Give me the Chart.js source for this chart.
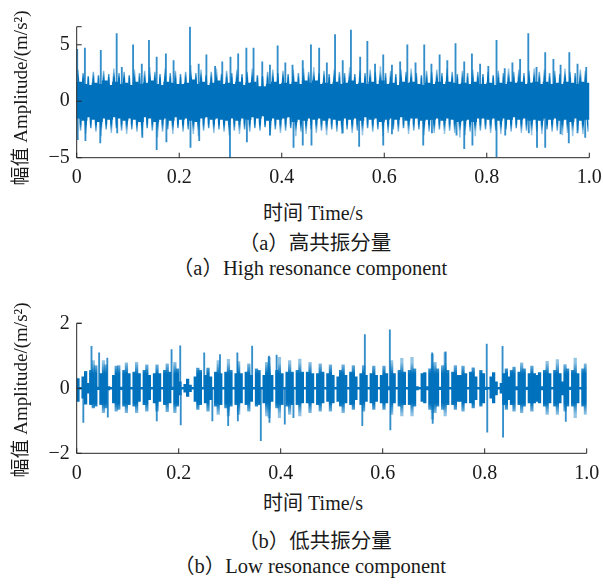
<!DOCTYPE html>
<html>
<head>
<meta charset="utf-8">
<script src="https://cdn.jsdelivr.net/npm/chart.js@4.4.1/dist/chart.umd.min.js"></script>
<style>
body{margin:0;background:#fff;width:603px;height:584px;position:relative;overflow:hidden;font-family:"Liberation Serif","Noto Sans CJK SC",serif;color:#1a1a1a}
.box{position:absolute;left:0;width:603px}
.txt{position:absolute;white-space:nowrap;transform:translate(-50%,-50%);font-size:20px;line-height:1}
.cap{font-size:20.5px}
.ytl{position:absolute;white-space:nowrap;transform:translate(-50%,-50%) rotate(-90deg);font-size:19px;line-height:1}
</style>
</head>
<body>
<div class="box" style="top:0;height:200px"><canvas id="chartHigh"></canvas></div>
<div class="box" style="top:290px;height:200px"><canvas id="chartLow"></canvas></div>

<div class="ytl" style="left:20px;top:98px">幅值 Amplitude/(m/s²)</div>
<div class="txt" style="left:313px;top:213px">时间 Time/s</div>
<div class="txt cap" style="left:315px;top:243px">（a）高共振分量</div>
<div class="txt cap" style="left:310px;top:268px">（a）High resonance component</div>

<div class="ytl" style="left:20px;top:390px">幅值 Amplitude/(m/s²)</div>
<div class="txt" style="left:313px;top:503px">时间 Time/s</div>
<div class="txt cap" style="left:315px;top:541px">（b）低共振分量</div>
<div class="txt cap" style="left:310px;top:566px">（b）Low resonance component</div>

<script>
// tick values
var xTicks = [0, 0.2, 0.4, 0.6, 0.8, 1.0];
var highYTicks = [-5, 0, 5];
var lowYTicks = [-2, 0, 2];

// (a) high resonance component: envelope per 0.01 s bin
var highBin = 0.01;
var highFringeHi = [
 2.8,2.5,2.2,2.6,2.3,2.7,2.4,2.9,2.5,2.6,
 2.3,2.8,2.5,2.7,3.0,2.6,2.4,2.9,2.5,2.7,
 2.4,2.6,3.2,2.5,2.8,2.3,2.6,2.9,2.4,2.7,
 2.5,2.8,2.4,2.6,2.9,2.3,2.2,2.6,2.8,2.5,
 2.7,2.4,2.8,2.5,2.9,2.6,3.0,2.5,2.7,2.4,
 2.8,2.6,2.5,3.0,2.4,2.7,2.5,2.8,2.6,3.1,
 2.5,2.7,2.4,2.8,2.6,2.9,2.5,2.3,2.7,2.6,
 2.8,2.5,2.9,2.6,2.4,2.7,2.5,2.8,2.6,2.4,
 2.6,2.3,2.7,2.5,2.9,2.6,2.8,2.5,2.7,2.9,
 2.6,2.8,2.5,2.7,2.4,2.9,2.6,2.5,2.8,2.7];
var highFringeLo = [
 -2.6,-2.9,-2.4,-2.7,-3.1,-2.5,-2.8,-2.4,-2.6,-2.9,
 -2.5,-2.7,-3.0,-2.4,-2.6,-3.2,-2.7,-2.5,-2.9,-2.4,
 -2.7,-2.5,-2.9,-3.1,-2.6,-2.4,-2.8,-2.5,-2.7,-3.0,
 -2.6,-2.9,-2.5,-2.7,-2.4,-2.6,-2.3,-3.0,-2.5,-2.8,
 -2.6,-2.4,-3.1,-2.7,-2.9,-2.5,-2.8,-2.6,-3.0,-2.5,
 -2.7,-2.9,-2.5,-2.8,-2.6,-3.0,-2.4,-2.7,-2.5,-3.1,
 -2.8,-2.5,-2.7,-2.4,-2.9,-2.6,-2.5,-3.0,-2.7,-2.8,
 -2.5,-2.9,-2.6,-2.8,-3.2,-3.0,-2.7,-3.1,-2.6,-2.5,
 -2.8,-2.6,-2.9,-2.5,-2.7,-2.4,-2.8,-2.6,-3.0,-2.7,
 -2.9,-2.5,-2.7,-2.6,-3.0,-2.8,-3.1,-2.6,-2.9,-2.7];
var highCoreHi = [
 1.7,1.5,1.4,1.6,1.5,1.8,1.4,1.7,1.5,1.6,
 1.4,1.7,1.5,1.6,1.8,1.5,1.4,1.7,1.6,1.5,
 1.5,1.6,1.9,1.5,1.7,1.4,1.6,1.8,1.5,1.6,
 1.5,1.7,1.4,1.6,1.7,1.3,1.3,1.5,1.7,1.5,
 1.6,1.5,1.7,1.5,1.8,1.6,1.8,1.5,1.6,1.5,
 1.7,1.5,1.6,1.8,1.5,1.6,1.5,1.7,1.5,1.8,
 1.5,1.6,1.4,1.7,1.6,1.7,1.5,1.4,1.6,1.5,
 1.7,1.5,1.7,1.6,1.5,1.6,1.5,1.7,1.5,1.5,
 1.6,1.4,1.6,1.5,1.7,1.6,1.7,1.5,1.6,1.7,
 1.5,1.7,1.5,1.6,1.5,1.7,1.6,1.5,1.7,1.6];
var highCoreLo = [
 -1.5,-1.7,-1.4,-1.6,-1.8,-1.5,-1.6,-1.4,-1.5,-1.7,
 -1.5,-1.6,-1.8,-1.4,-1.5,-1.8,-1.6,-1.5,-1.7,-1.4,
 -1.6,-1.5,-1.7,-1.8,-1.5,-1.4,-1.6,-1.5,-1.6,-1.7,
 -1.5,-1.7,-1.5,-1.6,-1.4,-1.5,-1.3,-1.7,-1.5,-1.6,
 -1.5,-1.4,-1.8,-1.6,-1.7,-1.5,-1.6,-1.5,-1.7,-1.5,
 -1.6,-1.7,-1.5,-1.6,-1.5,-1.7,-1.4,-1.6,-1.5,-1.8,
 -1.6,-1.5,-1.6,-1.4,-1.7,-1.5,-1.5,-1.7,-1.6,-1.6,
 -1.5,-1.7,-1.5,-1.6,-1.8,-1.7,-1.6,-1.8,-1.5,-1.5,
 -1.6,-1.5,-1.7,-1.5,-1.6,-1.4,-1.6,-1.5,-1.7,-1.6,
 -1.7,-1.5,-1.6,-1.5,-1.7,-1.6,-1.8,-1.5,-1.7,-1.6];
// isolated peaks (time s, value m/s^2)
var highSpikeT = [
 0.001,0.016,0.047,0.078,0.088,0.110,0.127,0.141,0.156,0.174,0.189,0.221,0.238,0.253,0.270,0.284,
 0.300,0.315,0.331,0.345,0.362,0.377,0.392,0.407,0.421,0.441,0.457,0.473,0.488,0.504,0.519,0.535,
 0.553,0.567,0.582,0.598,0.615,0.631,0.645,0.661,0.678,0.692,0.708,0.723,0.739,0.756,0.771,0.787,
 0.803,0.819,0.835,0.850,0.865,0.881,0.897,0.914,0.930,0.944,0.961,0.977,0.994,
 0.002,0.017,0.046,0.079,0.128,0.156,0.175,0.222,0.239,0.299,0.332,0.377,0.423,0.441,0.458,0.519,
 0.551,0.598,0.615,0.676,0.693,0.741,0.756,0.772,0.819,0.836,0.882,0.898,0.914,0.944,0.960,0.977,0.992];
var highSpikeV = [
 4.6,4.7,4.5,6.0,3.0,5.0,3.3,5.4,3.9,4.2,3.6,6.6,3.3,4.1,3.1,3.5,
 3.9,4.2,4.7,4.7,3.5,3.2,4.9,3.4,3.2,3.6,5.0,4.7,3.4,5.9,3.6,6.3,
 3.9,5.3,3.3,4.1,3.2,3.5,5.0,3.4,5.0,3.3,4.1,3.6,5.1,3.5,4.2,3.3,
 3.1,5.4,2.9,3.4,3.7,6.0,3.0,4.3,3.7,3.2,4.3,3.3,3.0,
 -3.4,-3.5,-3.7,-2.8,-3.2,-4.3,-3.6,-4.1,-3.5,-5.0,-3.6,-3.0,-4.1,-3.9,-3.9,-2.8,
 -4.0,-3.9,-2.9,-3.9,-2.8,-3.0,-4.2,-3.9,-4.9,-3.0,-2.8,-4.1,-4.1,-2.9,-3.7,-2.8,-3.2];

// (b) low resonance component: envelope per 0.005 s bin (bursts separated by quiet gaps)
var lowBin = 0.005;
var lowHi = [
 0.30,0.03,0.35,0.52,0.15,0.55,0.85,0.70,0.04,0.45,
 0.85,0.72,0.05,0.03,0.40,0.68,0.70,0.04,0.55,0.78,
 0.45,0.03,0.50,0.80,0.45,0.03,0.55,0.72,0.40,0.03,
 0.45,0.72,0.45,0.03,0.55,0.75,0.50,0.04,0.80,0.60,
 0.20,0.03,0.12,0.28,0.10,0.03,0.35,0.62,0.55,0.03,
 0.40,0.62,0.35,0.03,0.50,0.85,0.45,0.03,0.50,0.89,
 0.55,0.03,0.45,0.82,0.45,0.03,0.50,0.75,0.40,0.03,
 0.60,0.55,0.03,0.40,0.80,0.95,0.40,0.03,0.55,0.95,
 0.45,0.03,0.50,0.85,0.50,0.03,0.55,0.90,0.50,0.03,
 0.50,0.80,0.45,0.03,0.45,0.75,0.50,0.03,0.45,0.72,
 0.40,0.03,0.35,0.55,0.72,0.40,0.03,0.50,0.70,0.35,
 0.03,0.45,0.70,0.40,0.03,0.45,0.68,0.40,0.03,0.40,
 0.68,0.45,0.05,0.85,0.45,0.03,0.55,0.92,0.50,0.03,
 0.55,0.95,0.60,0.05,0.03,0.45,0.48,0.05,0.60,1.05,
 0.80,0.60,0.04,0.70,1.10,0.55,0.03,0.50,0.70,0.40,
 0.40,0.68,0.45,0.03,0.50,0.63,0.35,0.03,0.55,0.45,
 0.04,0.03,0.35,0.48,0.20,0.03,0.15,0.45,0.60,0.35,
 0.55,0.65,0.05,0.50,0.78,0.60,0.04,0.45,0.68,0.45,
 0.40,0.48,0.05,0.55,0.83,0.45,0.03,0.55,0.88,0.45,
 0.20,0.73,0.60,0.04,0.55,0.93,0.45,0.03,0.60,0.75];
var lowLo = [
 -0.40,-0.03,-0.30,-0.49,-0.15,-0.50,-0.60,-0.55,-0.04,-0.50,
 -0.75,-0.60,-0.05,-0.03,-0.45,-0.70,-0.65,-0.04,-0.55,-0.75,
 -0.50,-0.03,-0.55,-0.75,-0.40,-0.03,-0.50,-0.70,-0.35,-0.03,
 -0.45,-0.70,-0.40,-0.03,-0.50,-0.72,-0.45,-0.04,-0.75,-0.55,
 -0.20,-0.03,-0.12,-0.25,-0.10,-0.03,-0.40,-0.65,-0.50,-0.03,
 -0.45,-0.70,-0.35,-0.03,-0.55,-0.80,-0.50,-0.03,-0.60,-0.85,
 -0.55,-0.03,-0.50,-0.80,-0.45,-0.03,-0.50,-0.70,-0.40,-0.03,
 -0.55,-0.50,-0.03,-0.45,-0.85,-0.90,-0.40,-0.03,-0.60,-0.90,
 -0.50,-0.03,-0.55,-0.80,-0.50,-0.03,-0.50,-0.85,-0.45,-0.03,
 -0.45,-0.75,-0.45,-0.03,-0.50,-0.70,-0.45,-0.03,-0.40,-0.70,
 -0.45,-0.03,-0.40,-0.55,-0.75,-0.45,-0.03,-0.50,-0.65,-0.35,
 -0.03,-0.50,-0.70,-0.40,-0.03,-0.45,-0.65,-0.40,-0.03,-0.45,
 -0.65,-0.45,-0.05,-0.80,-0.45,-0.03,-0.55,-0.85,-0.50,-0.03,
 -0.50,-0.85,-0.55,-0.05,-0.03,-0.40,-0.45,-0.05,-0.65,-0.95,
 -0.75,-0.55,-0.04,-0.65,-0.85,-0.50,-0.03,-0.50,-0.65,-0.40,
 -0.40,-0.70,-0.45,-0.03,-0.45,-0.60,-0.35,-0.03,-0.55,-0.45,
 -0.04,-0.03,-0.30,-0.45,-0.20,-0.03,-0.15,-0.50,-0.65,-0.35,
 -0.50,-0.70,-0.05,-0.50,-0.75,-0.55,-0.04,-0.45,-0.70,-0.45,
 -0.40,-0.45,-0.05,-0.55,-0.80,-0.45,-0.03,-0.55,-0.80,-0.45,
 -0.20,-0.70,-0.55,-0.04,-0.55,-0.90,-0.45,-0.03,-0.55,-0.80];
var lowSpikeT = [
 0.029,0.044,0.060,0.186,0.203,0.250,0.281,0.315,0.344,0.377,0.392,0.565,0.614,0.697,0.723,0.804,0.835,
 0.013,0.061,0.157,0.204,0.266,0.297,0.316,0.361,0.378,0.408,0.425,0.560,0.615,0.698,0.805,0.836,0.959];
var lowSpikeV = [
 1.29,1.09,0.93,1.19,1.31,1.09,1.04,1.09,1.30,0.99,1.02,1.65,1.80,1.09,1.12,1.36,1.29,
 -1.05,-0.89,-1.00,-1.13,-1.00,-1.15,-1.00,-1.61,-1.05,-1.10,-0.90,-1.15,-1.28,-1.08,-1.35,-1.50,-1.02];

var BLUE = "#0072BD";
var LIGHT = "rgba(0,114,189,0.42)";
var AXIS = "#262626";

function BinBars(hi, lo, bin){
	var out = [];
	for (var i = 0; i < hi.length; i++){
		out.push({x: i*bin + bin/2, y: [lo[i], hi[i]]});
	}
	return out;
}
function ZigZag(hi, lo, bin){
	var out = [];
	for (var i = 0; i < hi.length; i++){
		out.push({x: i*bin + bin*0.25, y: hi[i]});
		out.push({x: i*bin + bin*0.75, y: lo[i]});
	}
	return out;
}
function Spikes(t, v){
	return t.map(function(tt, i){ return {x: tt, y: [0, v[i]]}; });
}

// dense middle is solid blue, the sparse outer part lighter (like overlapping thin lines)
function AmpGradient(inner, outer){
	return function(c){
		var chart = c.chart, a = chart.chartArea;
		if (!a) return BLUE;
		var ys = chart.scales.y;
		var y0 = ys.getPixelForValue(ys.max), y1 = ys.getPixelForValue(ys.min);
		var f = function(v){ return (ys.getPixelForValue(v) - y0) / (y1 - y0); };
		var g = chart.ctx.createLinearGradient(0, y0, 0, y1);
		g.addColorStop(0, LIGHT);
		g.addColorStop(f(outer), LIGHT);
		g.addColorStop(f(inner), BLUE);
		g.addColorStop(f(-inner), BLUE);
		g.addColorStop(f(-outer), LIGHT);
		g.addColorStop(1, LIGHT);
		return g;
	};
}

// MATLAB style axes: left + bottom lines, ticks pointing inward
var matlabAxes = {
	id: "matlabAxes",
	afterDatasetsDraw: function(chart){
		var ctx = chart.ctx, a = chart.chartArea;
		var xs = chart.scales.x, ys = chart.scales.y;
		ctx.save();
		ctx.strokeStyle = AXIS;
		ctx.lineWidth = 1;
		ctx.beginPath();
		ctx.moveTo(a.left, a.top);
		ctx.lineTo(a.left, a.bottom);
		ctx.lineTo(a.right, a.bottom);
		xs.ticks.forEach(function(t){
			var px = xs.getPixelForValue(t.value);
			ctx.moveTo(px, a.bottom);
			ctx.lineTo(px, a.bottom - 5);
		});
		ys.ticks.map(function(t){ return t.value; }).concat([ys.max]).forEach(function(v){
			var py = ys.getPixelForValue(v);
			ctx.moveTo(a.left, py);
			ctx.lineTo(a.left + 5, py);
		});
		ctx.stroke();
		ctx.restore();
	}
};

function ShowWave(id, cfg){
	var datasets = [
		{type: "bar", data: cfg.spikes, backgroundColor: "rgba(0,114,189,0.8)",
		 barThickness: 1.2, grouped: false, order: 4},
		{type: "bar", data: cfg.core, backgroundColor: cfg.coreColor, barThickness: cfg.coreWidth,
		 grouped: false, order: 2}
	];
	if (cfg.fringe){
		datasets.push({type: "line", data: cfg.fringe, borderColor: cfg.fringeColor, borderWidth: 1.5,
			pointRadius: 0, tension: 0, order: 1});
	}
	if (cfg.zero){
		datasets.push({type: "line", data: cfg.zero, borderColor: BLUE, borderWidth: 1.3,
			pointRadius: 0, order: 5});
	}
	return new Chart(document.getElementById(id), {
		type: "bar",
		data: {datasets: datasets},
		options: {
			responsive: true,
			maintainAspectRatio: false,
			animation: false,
			events: [],
			layout: {padding: {top: cfg.top, right: cfg.right, bottom: 0, left: 0}},
			plugins: {legend: {display: false}, tooltip: {enabled: false}},
			scales: {
				x: {
					type: "linear", min: 0, max: 1, offset: false,
					afterBuildTicks: function(s){ s.ticks = xTicks.map(function(v){ return {value: v}; }); },
					afterFit: function(s){ s.height = cfg.height - cfg.bottom; s.paddingLeft = 0; s.paddingRight = 0; },
					grid: {display: false, drawTicks: false},
					border: {display: false},
					ticks: {padding: 8, color: "#1a1a1a", maxRotation: 0,
						font: {family: "Liberation Serif", size: 20},
						callback: function(v){ return v === 0 ? "0" : v.toFixed(1); }}
				},
				y: {
					type: "linear", min: cfg.ymin, max: cfg.ymax,
					afterBuildTicks: function(s){ s.ticks = cfg.yTicks.map(function(v){ return {value: v}; }); },
					afterFit: function(s){ s.width = cfg.left; s.paddingTop = 0; s.paddingBottom = 0; },
					grid: {display: false, drawTicks: false},
					border: {display: false},
					ticks: {padding: 7, color: "#1a1a1a",
						font: {family: "Liberation Serif", size: 20},
						callback: function(v){ return v < 0 ? "\u2212" + Math.abs(v) : String(v); }}
				}
			}
		},
		plugins: [matlabAxes]
	});
}

ShowWave("chartHigh", {
	core: BinBars(highCoreHi, highCoreLo, highBin),
	coreColor: BLUE,
	coreWidth: 5.4,
	fringe: ZigZag(highFringeHi, highFringeLo, highBin),
	fringeColor: AmpGradient(2.0, 2.7),
	spikes: Spikes(highSpikeT, highSpikeV),
	ymin: -5, ymax: 6.6, yTicks: highYTicks,
	top: 26.7, right: 13.7, left: 76.7, bottom: 157.7, height: 200
});

ShowWave("chartLow", {
	core: BinBars(lowHi, lowLo, lowBin),
	coreColor: AmpGradient(0.45, 0.8),
	coreWidth: 2.6,
	spikes: Spikes(lowSpikeT, lowSpikeV),
	zero: [{x: 0, y: 0}, {x: 1, y: 0}],
	ymin: -2, ymax: 2, yTicks: lowYTicks,
	top: 33.3, right: 16.3, left: 76.7, bottom: 163.3, height: 200
});
</script>
</body>
</html>
